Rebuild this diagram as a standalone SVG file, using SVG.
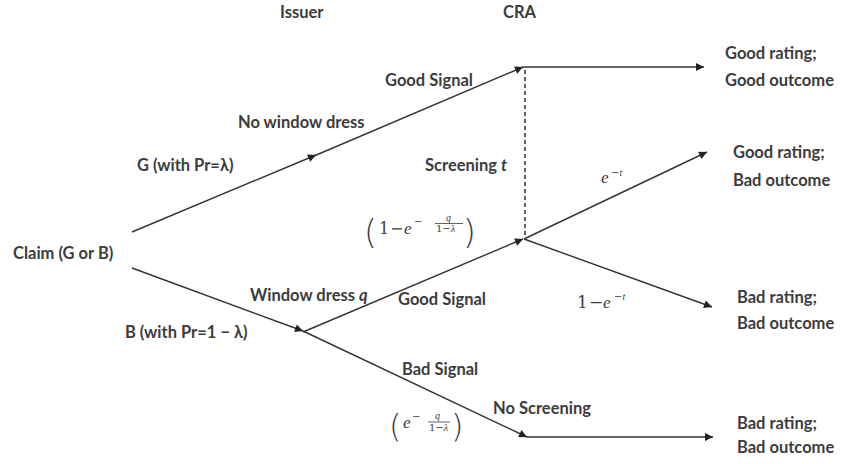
<svg xmlns="http://www.w3.org/2000/svg" width="841" height="464" viewBox="0 0 841 464">
  <style>
    .t { font-family: "Lato", "Liberation Sans", sans-serif; font-size: 16.5px; font-weight: bold; fill: #3c3c3c; }
    .m { font-family: "DejaVu Serif", "Liberation Serif", serif; fill: #3c3c3c; }
    .mi { font-family: "Liberation Serif", "DejaVu Serif", serif; font-style: italic; fill: #3c3c3c; }
    .edge { stroke: #333; stroke-width: 1.4; fill: none; }
    .dash { stroke: #222; stroke-width: 1.4; stroke-dasharray: 4 3; fill: none; }
    .paren { font-family: "DejaVu Sans", "Liberation Sans", sans-serif; font-weight: 200; fill: #3c3c3c; }
    .bar { stroke: #3c3c3c; stroke-width: 0.8; }
  </style>
  <defs>
    <marker id="arrow" viewBox="0 0 10 10" refX="10" refY="5" markerWidth="9" markerHeight="8" markerUnits="userSpaceOnUse" orient="auto">
      <path d="M0,0 L10,5 L0,10 z" fill="#222"/>
    </marker>
  </defs>

  <rect width="841" height="464" fill="#fff"/>

  <!-- column headers -->
  <g id="header-issuer"><text class="t" x="280" y="18">Issuer</text></g>
  <g id="header-cra"><text class="t" x="503" y="18">CRA</text></g>

  <!-- connectors -->
  <g id="connectors">
    <line class="edge" x1="132" y1="232" x2="316" y2="155" marker-end="url(#arrow)"/>
    <line class="edge" x1="314" y1="156" x2="523" y2="67" marker-end="url(#arrow)"/>
    <line class="edge" x1="523" y1="67" x2="704" y2="67" marker-end="url(#arrow)"/>
    <line class="dash" x1="525" y1="70" x2="525" y2="238"/>
    <line class="edge" x1="132" y1="268" x2="303" y2="331" marker-end="url(#arrow)"/>
    <line class="edge" x1="303" y1="332" x2="523" y2="239" marker-end="url(#arrow)"/>
    <line class="edge" x1="303" y1="331" x2="527" y2="437" marker-end="url(#arrow)"/>
    <line class="edge" x1="527" y1="437" x2="713" y2="437" marker-end="url(#arrow)"/>
    <line class="edge" x1="524" y1="239" x2="707" y2="152" marker-end="url(#arrow)"/>
    <line class="edge" x1="524" y1="239" x2="712" y2="307" marker-end="url(#arrow)"/>
  </g>

  <!-- root -->
  <g id="node-claim"><text class="t" x="13" y="259">Claim (G or B)</text></g>

  <!-- branch labels -->
  <g id="label-g"><text class="t" x="137" y="171">G (with Pr=λ)</text></g>
  <g id="label-no-window-dress"><text class="t" x="238" y="128">No window dress</text></g>
  <g id="label-good-signal-top"><text class="t" x="385" y="86">Good Signal</text></g>
  <g id="label-screening"><text class="t" x="425" y="171">Screening <tspan font-style="italic">t</tspan></text></g>
  <g id="label-b"><text class="t" x="125" y="338">B (with Pr=1 − λ)</text></g>
  <g id="label-window-dress"><text class="t" x="250" y="301">Window dress <tspan font-style="italic">q</tspan></text></g>
  <g id="label-good-signal-low"><text class="t" x="398" y="305">Good Signal</text></g>
  <g id="label-bad-signal"><text class="t" x="402" y="375">Bad Signal</text></g>
  <g id="label-no-screening"><text class="t" x="493" y="414">No Screening</text></g>

  <!-- probability (1 - e^{-q/(1-λ)}) -->
  <g id="prob-good-signal">
    <text class="paren" x="364" y="244" font-size="33">(</text>
    <text class="m" x="379" y="234" font-size="16">1</text>
    <text class="m" x="390" y="234" font-size="16">−</text>
    <text class="mi" x="404" y="234" font-size="17">e</text>
    <text class="m" x="414" y="225" font-size="10">−</text>
    <text class="mi" x="446" y="221" font-size="10">q</text>
    <line class="bar" x1="435" y1="223.5" x2="463" y2="223.5"/>
    <text class="m" x="436" y="232" font-size="10">1−<tspan class="mi">λ</tspan></text>
    <text class="paren" x="463" y="244" font-size="33">)</text>
  </g>

  <!-- probability (e^{-q/(1-λ)}) -->
  <g id="prob-bad-signal">
    <text class="paren" x="389" y="437" font-size="32">(</text>
    <text class="mi" x="403" y="428" font-size="17">e</text>
    <text class="m" x="412" y="420" font-size="10">−</text>
    <text class="mi" x="435" y="419" font-size="10">q</text>
    <line class="bar" x1="428" y1="422" x2="450" y2="422"/>
    <text class="m" x="429" y="431" font-size="10">1−<tspan class="mi">λ</tspan></text>
    <text class="paren" x="451" y="437" font-size="32">)</text>
  </g>

  <!-- screening outcome probabilities -->
  <g id="prob-e-t">
    <text class="mi" x="601" y="183" font-size="17">e</text>
    <text class="m" x="611" y="176" font-size="10">−<tspan class="mi">t</tspan></text>
  </g>
  <g id="prob-1-e-t">
    <text class="m" x="577" y="308" font-size="17">1</text>
    <text class="m" x="589" y="308" font-size="17">−</text>
    <text class="mi" x="603" y="308" font-size="17">e</text>
    <text class="m" x="614" y="300" font-size="10">−<tspan class="mi">t</tspan></text>
  </g>

  <!-- terminal outcomes -->
  <g id="outcome-good-good">
    <text class="t" x="725" y="59">Good rating;</text>
    <text class="t" x="725" y="86">Good outcome</text>
  </g>
  <g id="outcome-good-bad">
    <text class="t" x="733" y="158">Good rating;</text>
    <text class="t" x="733" y="186">Bad outcome</text>
  </g>
  <g id="outcome-bad-bad-screened">
    <text class="t" x="737" y="303">Bad rating;</text>
    <text class="t" x="737" y="329">Bad outcome</text>
  </g>
  <g id="outcome-bad-bad-unscreened">
    <text class="t" x="737" y="429">Bad rating;</text>
    <text class="t" x="737" y="453">Bad outcome</text>
  </g>
</svg>
